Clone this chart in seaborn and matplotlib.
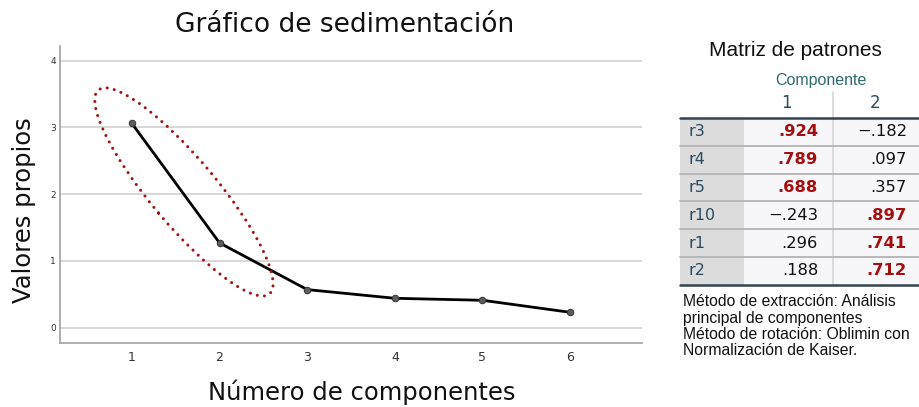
import matplotlib
matplotlib.use("Agg")
import matplotlib.pyplot as plt
from matplotlib.patches import Ellipse, Rectangle
from matplotlib.transforms import ScaledTranslation
import pandas as pd
import seaborn as sns

# Scree plot data
componentes = [1, 2, 3, 4, 5, 6]
valores_propios = [3.06, 1.27, 0.57, 0.44, 0.41, 0.23]
yticks = [0, 1, 2, 3, 4]

# Pattern matrix (rotated loadings)
filas = ["r3", "r4", "r5", "r10", "r1", "r2"]
comp1 = [0.924, 0.789, 0.688, -0.243, 0.296, 0.188]
comp2 = [-0.182, 0.097, 0.357, 0.897, 0.741, 0.712]
col_labels = ["1", "2"]
nota = ["Método de extracción: Análisis",
        "principal de componentes",
        "Método de rotación: Oblimin con",
        "Normalización de Kaiser."]

sns.set_style("white")
plt.rcParams["font.family"] = ["DejaVu Sans"]

W, H = 919, 407
fig = plt.figure(figsize=(W / 100, H / 100), dpi=100)

# ---------------- scree plot ----------------
L, R, T, B = 60, 642, 46, 343
ax = fig.add_axes([L / W, 1 - B / H, (R - L) / W, (B - T) / H])
df = pd.DataFrame({"Componente": componentes, "Valor": valores_propios})

for y in yticks:
    ax.axhline(y, color="#d4d4d4", lw=1.3, zorder=0)

sns.lineplot(data=df, x="Componente", y="Valor", ax=ax, color="black",
             linewidth=2.0, marker="o", markersize=4.6,
             markerfacecolor="#5e5e5e", markeredgecolor="#3a3a3a",
             markeredgewidth=0.8, zorder=3)

ax.set_xlim(0.18, 6.82)
ax.set_ylim(-0.23, 4.22)
ax.set_xticks(componentes)
ax.set_yticks(yticks)
ax.set_xticklabels([str(c) for c in componentes], fontsize=9, color="#333333")
ax.set_yticklabels([str(v) for v in yticks], fontsize=6.5, color="#333333")
ax.tick_params(axis="x", length=0, pad=6)
ax.tick_params(axis="y", length=0, pad=3)
ax.set_xlabel("")
ax.set_ylabel("")
for s in ["top", "right"]:
    ax.spines[s].set_visible(False)
for s in ["left", "bottom"]:
    ax.spines[s].set_color("#a8a8a8")
    ax.spines[s].set_linewidth(1.3)

# dotted ellipse around the first two components
elipse = Ellipse((0, 0), width=2.66, height=0.66, angle=-50,
                 transform=fig.dpi_scale_trans + ScaledTranslation(1.594, 2.033, ax.transData),
                 fill=False, edgecolor="#a01414", linewidth=2.2,
                 linestyle=(0, (0.01, 2.35)), zorder=4)
elipse.set_capstyle("round")
ax.add_patch(elipse)

fig.text(345 / W, 1 - 25 / H, "Gráfico de sedimentación", fontsize=19,
         ha="center", va="center", color="#111111")
fig.text(362 / W, 1 - 392 / H, "Número de componentes", fontsize=17.5,
         ha="center", va="center", color="#111111")
fig.text(24 / W, 1 - 210 / H, "Valores propios", fontsize=17.5, rotation=90,
         ha="center", va="center", color="#111111")

# ---------------- pattern matrix table ----------------
ov = fig.add_axes([0, 0, 1, 1], facecolor="none")
ov.set_xlim(0, W)
ov.set_ylim(H, 0)
ov.axis("off")

sans = ["Liberation Sans", "DejaVu Sans"]
ov.text(795, 50, "Matriz de patrones", fontsize=15, family=sans,
        ha="center", va="center", color="#111111")
ov.text(821, 81, "Componente", fontsize=11.5, family=sans,
        ha="center", va="center", color="#2a6b6e")
col_x = [786.5, 875]
for cx, lab in zip(col_x, col_labels):
    ov.text(cx, 103, lab, fontsize=12, ha="center", va="center", color="#2b4a60")

top, row_h = 118, 27.8
x0, xlab, xend = 680, 744, 919
n = len(filas)
ov.add_patch(Rectangle((x0, top), xlab - x0, n * row_h, facecolor="#dcdcdc",
                       edgecolor="none", zorder=1))
ov.add_patch(Rectangle((xlab, top), xend - xlab, n * row_h, facecolor="#f7f7fa",
                       edgecolor="none", zorder=1))
ov.plot([833, 833], [92, top + n * row_h], color="#d9d9d9", lw=1.3, zorder=2)
for i in range(1, n):
    yy = top + i * row_h
    ov.plot([x0, xend], [yy, yy], color="#b8b8b8", lw=1.4, zorder=3)
ov.plot([x0, xend], [top, top], color="#34434f", lw=1.8, zorder=3)
ov.plot([x0, xend], [top + n * row_h, top + n * row_h], color="#34434f", lw=1.8, zorder=3)


def fmt(v):
    s = f"{abs(v):.3f}".lstrip("0")
    return ("\u2212" if v < 0 else "") + s


right_x = [818, 907]
for i, (f, a, b) in enumerate(zip(filas, comp1, comp2)):
    yc = top + (i + 0.5) * row_h
    ov.text(688, yc, f, fontsize=11.5, ha="left", va="center", color="#2b4a60", zorder=4)
    alto = 0 if abs(a) >= abs(b) else 1
    for j, v in enumerate([a, b]):
        hi = j == alto
        ov.text(right_x[j], yc, fmt(v), fontsize=11.8, ha="right", va="center",
                color="#a30f0f" if hi else "#111111",
                fontweight="bold" if hi else "normal", zorder=4)

for k, linea in enumerate(nota):
    ov.text(683, 302 + k * 16.3, linea, fontsize=11.3, family=sans,
            ha="left", va="center", color="#111111")

fig.savefig("out.png", dpi=100)
